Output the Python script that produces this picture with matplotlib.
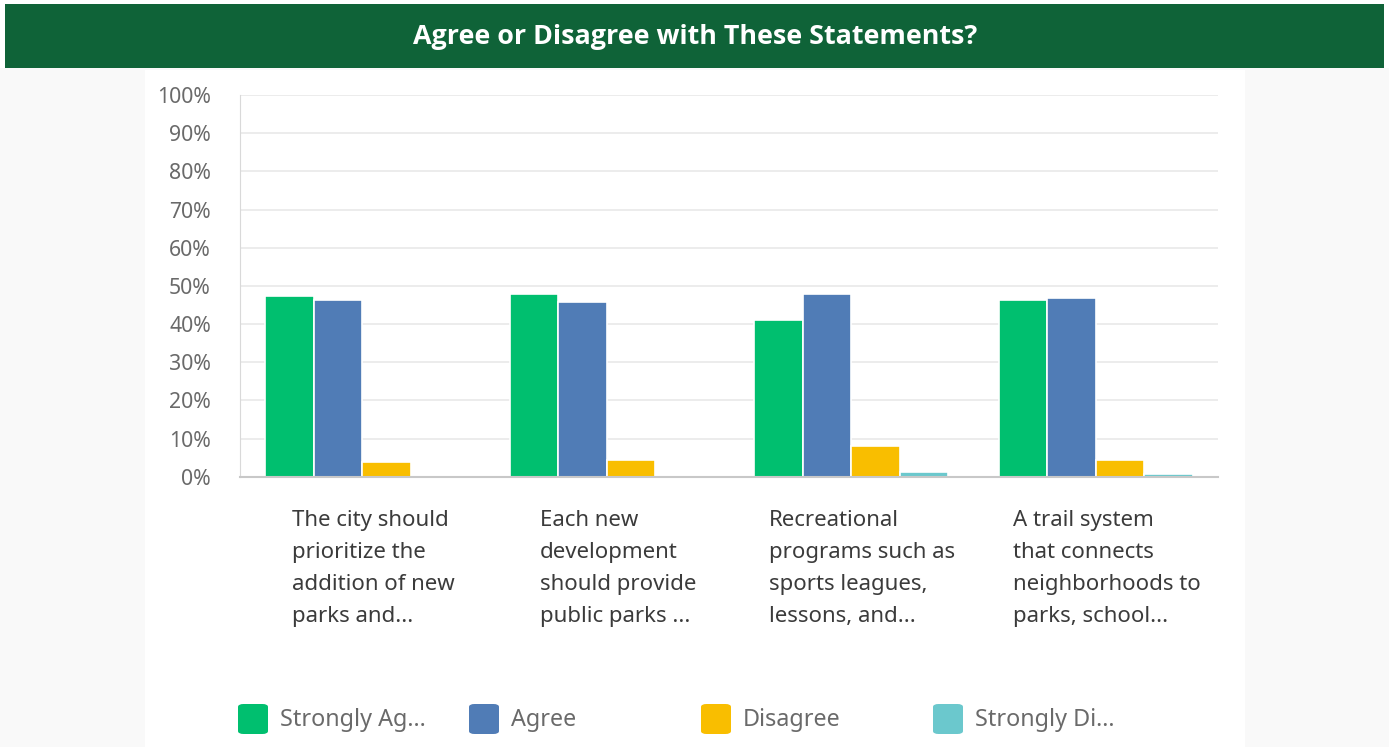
import matplotlib.pyplot as plt
import numpy as np
from matplotlib.patches import Rectangle, FancyBboxPatch
from matplotlib.transforms import blended_transform_factory

# ── Data ──────────────────────────────────────────────────
statements = [
    "The city should\nprioritize the\naddition of new\nparks and...",
    "Each new\ndevelopment\nshould provide\npublic parks ...",
    "Recreational\nprograms such as\nsports leagues,\nlessons, and...",
    "A trail system\nthat connects\nneighborhoods to\nparks, school...",
]
series_names = ["Strongly Ag...", "Agree", "Disagree", "Strongly Di..."]
strongly_agree    = [47.4, 47.9, 41.0, 46.3]
agree             = [46.3, 45.8, 47.9, 46.7]
disagree          = [3.9, 4.4, 8.0, 4.3]
strongly_disagree = [0.0, 0.0, 1.2, 0.6]
colors = ["#00bf6f", "#507cb6", "#f9be00", "#6bc8cd"]
yticks = np.arange(0, 101, 10)

W, H = 1389, 747
fig = plt.figure(figsize=(W / 100, H / 100), dpi=100)
fig.patch.set_facecolor("white")

def fx(px):
    return px / W

def fy(py):
    return 1 - py / H

# ── Background + header ───────────────────────────────────
fig.patches.append(Rectangle((0, 0), 1, fy(68), transform=fig.transFigure,
                             facecolor="#f9f9f9", edgecolor="none", zorder=-3))
fig.patches.append(Rectangle((fx(145), 0), fx(1245) - fx(145), fy(70),
                             transform=fig.transFigure, facecolor="white",
                             edgecolor="none", zorder=-2))
fig.patches.append(Rectangle((fx(5), fy(68)), fx(1384) - fx(5), fy(4) - fy(68),
                             transform=fig.transFigure, facecolor="#0f6338",
                             edgecolor="none", zorder=-2))
fig.text(fx(695), fy(37), "Agree or Disagree with These Statements?",
         color="white", fontsize=19.4, fontweight="bold", family="Open Sans",
         ha="center", va="center")

# ── Bars ──────────────────────────────────────────────────
ax = fig.add_axes([fx(240), fy(476.7), fx(1218) - fx(240), fy(95) - fy(476.7)])
ax.set_facecolor("none")
x = np.arange(len(statements))
bw = 0.198
all_series = [strongly_agree, agree, disagree, strongly_disagree]
for i, (vals, c) in enumerate(zip(all_series, colors)):
    ax.bar(x + (i - 1.5) * bw, vals, width=bw, color=c, edgecolor="white",
           linewidth=1.2, zorder=3)

ax.set_xlim(-0.5, len(statements) - 0.5)
ax.set_ylim(0, 100)
ax.set_yticks(yticks)
ax.set_yticklabels([f"{v}%" for v in yticks], fontsize=15.3, color="#6a6a6a",
                   family="Noto Sans")
ax.tick_params(axis="y", length=0, pad=21)
ax.set_xticks([])
ax.grid(axis="y", color="#ebebeb", linewidth=1.3, zorder=0)
for s in ["top", "right"]:
    ax.spines[s].set_visible(False)
ax.spines["left"].set_color("#d9d9d9")
ax.spines["bottom"].set_color("#c8c8c8")
ax.spines["bottom"].set_linewidth(1.5)
ax.spines["bottom"].set_zorder(5)

trans = blended_transform_factory(ax.transData, ax.transAxes)
for xi, label in zip(x, statements):
    ax.text(xi + 0.045, -0.088, label, transform=trans, ha="center", va="top",
            multialignment="left", fontsize=16, color="#3b3b3b",
            family="Noto Sans", linespacing=1.69)

# ── Legend ────────────────────────────────────────────────
legend_x = [238, 469, 701, 933]
for lx, name, c in zip(legend_x, series_names, colors):
    fig.patches.append(FancyBboxPatch((fx(lx), fy(734)), fx(30), fy(704) - fy(734),
                                      boxstyle="round,pad=0,rounding_size=0.004",
                                      transform=fig.transFigure, facecolor=c,
                                      edgecolor="none"))
    fig.text(fx(lx + 42), fy(720), name, fontsize=16.8, color="#6a6a6a",
             family="Noto Sans", ha="left", va="center")

plt.savefig("out.png", dpi=100)
